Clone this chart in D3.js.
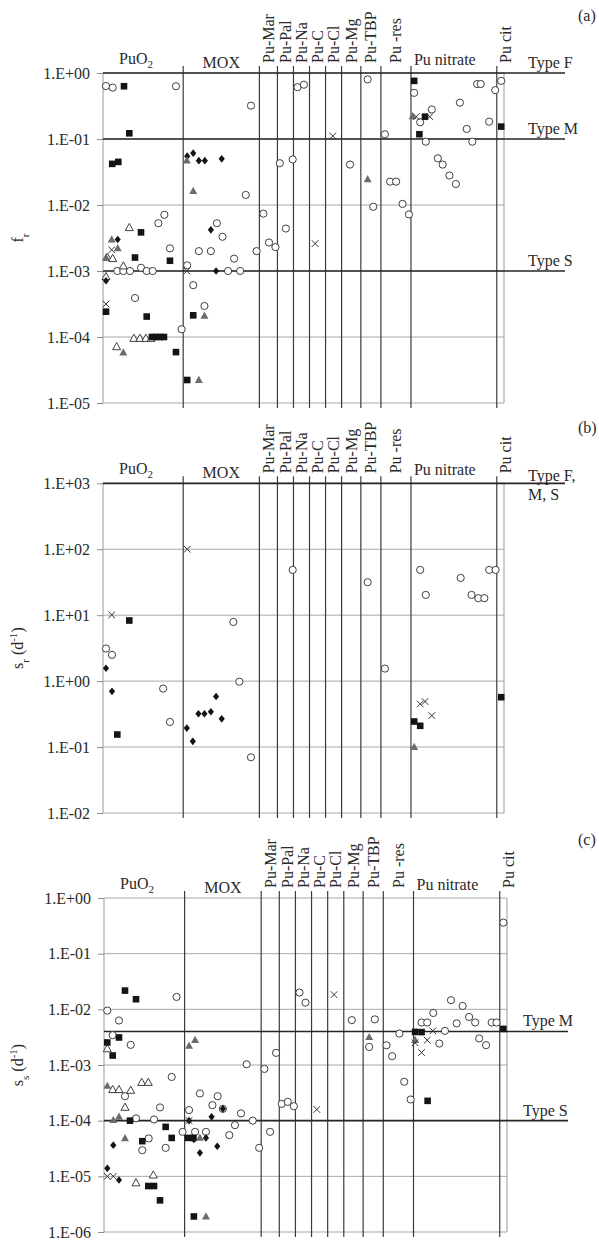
<!DOCTYPE html>
<html>
<head>
<meta charset="utf-8">
<script src="https://cdn.jsdelivr.net/npm/d3@7"></script>
<style>
  body { margin: 0; background: #fff; }
  svg { display: block; }
  text { font-family: "Liberation Serif", "Times New Roman", serif; fill: #2a2a2a; }
</style>
</head>
<body>
<svg id="chart" width="599" height="1240"></svg>
<script>
// ---- categories (material groups along the x axis, position index 0–100) ----
const categories = ["PuO2", "MOX", "Pu-Mar", "Pu-Pal", "Pu-Na", "Pu-C", "Pu-Cl", "Pu-Mg", "Pu-TBP", "Pu -res", "Pu nitrate", "Pu cit"];
const categoryEdges = [0, 20, 39, 43.5, 47.5, 51.5, 55.5, 59.5, 64.3, 69.3, 76.8, 98.2, 100];

// ---- tick labels ----
const frTickLabels = ["1.E+00", "1.E-01", "1.E-02", "1.E-03", "1.E-04", "1.E-05"];
const srTickLabels = ["1.E+03", "1.E+02", "1.E+01", "1.E+00", "1.E-01", "1.E-02"];
const ssTickLabels = ["1.E+00", "1.E-01", "1.E-02", "1.E-03", "1.E-04", "1.E-05", "1.E-06"];

// ---- absorption type reference values ----
const frTypes = [["Type F", 1], ["Type M", 0.1], ["Type S", 0.001]];
const srTypes = [["Type F,|M, S", 1000]];
const ssTypes = [["Type M", 0.004], ["Type S", 0.0001]];

// ---- (a) f_r : [position, value] ----
const frOpenCircle = [
  [0.75,0.635],[2.42,0.60],[18.2,0.63],[13.8,0.0053],[15.3,0.0071],[16.7,0.0022],[3.57,0.001],[5.06,0.001],
  [6.73,0.001],[9.48,0.00112],[10.9,0.001],[12.4,0.001],[7.98,0.00039],[19.6,0.000131],
  [36.9,0.32],[35.6,0.0142],[28.4,0.0053],[29.8,0.0033],[23.9,0.002],[26.9,0.002],[32.7,0.00154],[38.3,0.002],
  [31.2,0.001],[34.2,0.001],[21.0,0.00122],[22.5,0.00061],[25.3,0.000295],
  [40.0,0.0074],[41.4,0.0027],[43.0,0.0023],[44.1,0.043],[45.6,0.0044],[47.3,0.049],[48.5,0.61],[50.1,0.665],
  [61.6,0.041],[66.0,0.80],[67.4,0.0094],[70.3,0.118],[71.6,0.0226],[73.1,0.0226],[74.7,0.0104],[76.3,0.0072],
  [77.6,0.50],[79.1,0.179],[82.0,0.28],[80.5,0.091],[83.5,0.051],[84.7,0.041],[86.4,0.028],[88.0,0.0208],
  [89.0,0.355],[90.7,0.142],[92.1,0.091],[93.3,0.68],[94.2,0.68],[96.3,0.183],[97.8,0.55],[99.3,0.76]
];
const frSquare = [
  [5.24,0.63],[6.56,0.122],[2.3,0.042],[3.82,0.045],[9.48,0.00385],[7.98,0.0016],[16.7,0.00143],[0.75,0.000242],
  [10.9,0.000204],[12.2,0.0001],[13.2,0.0001],[14.2,0.0001],[15.2,0.0001],[18.2,0.000059],
  [22.5,0.000213],[21.0,0.0000223],[77.6,0.76],[80.3,0.218],[78.9,0.118],[99.3,0.154]
];
const frDiamond = [
  [3.67,0.003],[0.75,0.00071],[21.0,0.055],[22.5,0.061],[23.9,0.047],[25.4,0.047],[29.6,0.050],[26.9,0.0042],[28.2,0.001]
];
const frGreyTriangle = [
  [2.17,0.003],[3.67,0.0022],[0.75,0.0016],[5.06,0.000058],[20.9,0.047],[22.5,0.0163],[25.3,0.00021],
  [23.9,0.0000223],[66.0,0.0245],[77.2,0.22]
];
const frOpenTriangle = [
  [6.56,0.00453],[1.07,0.00161],[2.42,0.00154],[5.06,0.00119],[0.75,0.00082],[7.7,0.000095],[9.2,0.000095],
  [10.7,0.000095],[12.0,0.000095],[3.4,0.000071]
];
const frCross = [
  [2.17,0.00209],[0.75,0.000316],[20.9,0.001],[52.9,0.0026],[57.3,0.111],[78.1,0.218],[81.5,0.218]
];

// ---- (b) s_r (d-1) ----
const srOpenCircle = [
  [0.75,3.12],[2.24,2.5],[15.0,0.77],[16.7,0.24],[32.5,7.9],[34.0,0.98],[36.9,0.07],[47.3,48.6],[66.0,31.6],
  [70.3,1.55],[79.1,48.6],[80.5,20.3],[89.2,36.7],[91.9,20.3],[93.6,18.1],[95.1,18.1],[96.3,48.6],[97.9,48.6]
];
const srSquare = [[6.56,8.3],[3.57,0.155],[77.6,0.244],[79.1,0.21],[99.3,0.57]];
const srDiamond = [[0.75,1.57],[2.24,0.70],[20.9,0.194],[22.4,0.122],[23.8,0.32],[25.3,0.32],[26.9,0.343],[28.2,0.585],[29.6,0.268]];
const srGreyTriangle = [[77.6,0.1]];
const srOpenTriangle = [];
const srCross = [[2.17,10.1],[21.0,100],[79.1,0.45],[80.3,0.49],[82.0,0.30]];

// ---- (c) s_s (d-1) ----
const ssOpenCircle = [
  [18.0,0.0167],[0.82,0.0095],[3.72,0.0063],[2.16,0.00343],[6.63,0.0023],[5.21,0.000275],[16.8,0.00061],
  [13.9,0.000173],[7.94,0.00011],[12.41,0.000105],[11.09,0.000048],[9.5,0.0000295],[15.3,0.0000325],
  [21.1,0.000155],[19.5,0.000063],[22.6,0.000063],[23.8,0.000308],[26.9,0.00019],[28.2,0.000275],[29.5,0.000163],
  [25.3,0.000063],[31.1,0.000055],[32.5,0.0000831],[34.0,0.000135],[36.9,0.0001],[38.5,0.0000325],[35.4,0.00103],
  [39.8,0.00085],[41.2,0.000063],[42.7,0.00165],[44.1,0.0002],[45.6,0.000218],[47.1,0.000182],[48.5,0.02],[50.0,0.0132],
  [61.5,0.0064],[67.2,0.0066],[65.8,0.00211],[70.1,0.00226],[71.5,0.00144],[73.3,0.00367],[74.5,0.0005],[76.1,0.00024],
  [78.8,0.0058],[80.2,0.0058],[81.7,0.0086],[83.2,0.00243],[84.6,0.0041],[86.1,0.0146],[87.5,0.0056],[89.0,0.0115],
  [90.6,0.0073],[92.1,0.0058],[93.1,0.003],[94.8,0.00227],[96.2,0.0058],[97.4,0.0058],[99.1,0.361]
];
const ssSquare = [
  [5.21,0.0217],[7.94,0.0152],[3.72,0.00312],[0.82,0.00254],[2.16,0.00148],[6.45,0.0001],[15.3,0.0000774],
  [16.8,0.000049],[9.5,0.0000428],[10.99,0.0000067],[12.41,0.0000067],[13.9,0.0000037],
  [20.9,0.000049],[22.2,0.000049],[22.3,0.0000019],[77.2,0.00393],[78.8,0.0039],[80.3,0.000227],[99.1,0.00445]
];
const ssDiamond = [
  [2.31,0.0000363],[0.82,0.0000139],[3.72,0.0000086],[21.1,0.0001],[23.8,0.0000264],[29.5,0.000163],
  [26.7,0.000117],[22.3,0.000046],[25.3,0.000049],[28.1,0.0000348]
];
const ssGreyTriangle = [
  [21.1,0.0022],[22.6,0.0028],[0.82,0.00042],[2.31,0.000102],[3.72,0.000117],[5.21,0.000048],[23.8,0.000049],
  [25.3,0.0000019],[65.8,0.00316],[77.2,0.0028]
];
const ssOpenTriangle = [
  [0.82,0.00195],[2.16,0.00036],[3.72,0.00036],[6.63,0.00035],[9.35,0.000485],[10.99,0.000485],[5.21,0.000173],
  [7.94,0.0000076],[12.23,0.0000105]
];
const ssCross = [
  [0.82,0.00001],[2.31,0.00001],[21.1,0.0001],[52.8,0.000159],[57.1,0.0184],[77.2,0.0025],[78.8,0.00168],
  [80.2,0.00279],[81.6,0.0041]
];

// ---- marker appearance ----
const markerStyles = {
  circle:      { path: "M3.6,0A3.6,3.6,0,1,1,-3.6,0A3.6,3.6,0,1,1,3.6,0Z", fill: "#fff", stroke: "#2b2b2b", sw: 0.9 },
  openTri:     { path: "M0,-4.3L4,2.9L-4,2.9Z", fill: "#fff", stroke: "#2b2b2b", sw: 0.9 },
  square:      { path: "M-3.3,-3.3H3.3V3.3H-3.3Z", fill: "#141414", stroke: "none", sw: 0 },
  diamond:     { path: "M0,-3.8L3.1,0L0,3.8L-3.1,0Z", fill: "#141414", stroke: "none", sw: 0 },
  greyTri:     { path: "M0,-4.3L4,2.9L-4,2.9Z", fill: "#6c6c6c", stroke: "none", sw: 0 },
  cross:       { path: "M-3.3,-3.3L3.3,3.3M-3.3,3.3L3.3,-3.3", fill: "none", stroke: "#333", sw: 1 }
};

// ---- panel layout ----
const panels = [
  { letter: "(a)", letterY: 21, top: 73, bottom: 403, left: 103, right: 504, typeEnd: 565, typeX: 528,
    ticks: frTickLabels, types: frTypes, title: [["f",""],["r","sub"]],
    series: { circle: frOpenCircle, openTri: frOpenTriangle, square: frSquare, diamond: frDiamond, greyTri: frGreyTriangle, cross: frCross } },
  { letter: "(b)", letterY: 433, top: 483.3, bottom: 813, left: 103, right: 504, typeEnd: 565, typeX: 528,
    ticks: srTickLabels, types: srTypes, title: [["s",""],["r","sub"],[" (d",""],["-1","super"],[")",""]],
    series: { circle: srOpenCircle, openTri: srOpenTriangle, square: srSquare, diamond: srDiamond, greyTri: srGreyTriangle, cross: srCross } },
  { letter: "(c)", letterY: 845, top: 898, bottom: 1232, left: 104, right: 507, typeEnd: 568, typeX: 523,
    ticks: ssTickLabels, types: ssTypes, title: [["s",""],["s","sub"],[" (d",""],["-1","super"],[")",""]],
    series: { circle: ssOpenCircle, openTri: ssOpenTriangle, square: ssSquare, diamond: ssDiamond, greyTri: ssGreyTriangle, cross: ssCross } }
];

const rotatedCats = ["Pu-Mar", "Pu-Pal", "Pu-Na", "Pu-C", "Pu-Cl", "Pu-Mg", "Pu-TBP", "Pu -res", "Pu cit"];

const svg = d3.select("#chart");

panels.forEach(p => {
  const g = svg.append("g");
  const tickValues = p.ticks.map(Number);
  const y = d3.scaleLog().domain(d3.extent(tickValues)).range([p.bottom, p.top]);
  const x = d3.scaleLinear().domain([0, 100]).range([p.left, p.right]);

  // decade grid
  g.append("g").selectAll("line").data(tickValues).join("line")
    .attr("x1", p.left).attr("x2", p.right)
    .attr("y1", d => y(d)).attr("y2", d => y(d))
    .attr("stroke", "#a8a8a8").attr("stroke-width", 1);

  // plot frame (left and right)
  g.append("g").selectAll("line").data([0, 100]).join("line")
    .attr("x1", d => x(d)).attr("x2", d => x(d))
    .attr("y1", p.top).attr("y2", p.bottom)
    .attr("stroke", "#9a9a9a").attr("stroke-width", 1);

  // y axis ticks and labels
  const axis = d3.axisLeft(y).tickValues(tickValues)
    .tickFormat((d, i) => p.ticks[i]).tickSize(6).tickPadding(7);
  const ax = g.append("g").attr("transform", `translate(${p.left},0)`).call(axis);
  ax.select(".domain").remove();
  ax.selectAll(".tick line").attr("stroke", "#8a8a8a");
  ax.selectAll(".tick text").attr("font-size", 16).attr("font-family", "Liberation Serif, serif").attr("fill", "#2a2a2a");

  // category separators
  g.append("g").selectAll("line").data(categoryEdges.slice(1, -1)).join("line")
    .attr("x1", d => x(d)).attr("x2", d => x(d))
    .attr("y1", p.top - 7).attr("y2", p.bottom + 5)
    .attr("stroke", "#3c3c3c").attr("stroke-width", 1.2);

  // absorption type reference lines
  const tl = g.append("g").selectAll("g").data(p.types).join("g");
  tl.append("line")
    .attr("x1", p.left).attr("x2", p.typeEnd)
    .attr("y1", d => y(d[1])).attr("y2", d => y(d[1]))
    .attr("stroke", "#262626").attr("stroke-width", 1.7);
  tl.each(function(d) {
    const lines = d[0].split("|");
    const t = d3.select(this).append("text")
      .attr("x", p.typeX).attr("y", y(d[1]) - (lines.length > 1 ? 2 : 5))
      .attr("font-size", 16);
    lines.forEach((s, i) => t.append("tspan").attr("x", p.typeX).attr("dy", i ? 19 : 0).text(s));
  });

  // category labels
  categories.forEach((c, i) => {
    const x0 = x(categoryEdges[i]), x1 = x(categoryEdges[i + 1]), cx = (x0 + x1) / 2;
    if (rotatedCats.includes(c)) {
      const ox = c === "Pu cit" ? cx + 5 : cx;
      g.append("text")
        .attr("transform", `translate(${ox + 5.5},${p.top - 10}) rotate(-90)`)
        .attr("font-size", 16).text(c);
    } else if (c === "PuO2") {
      const t = g.append("text").attr("x", x0 + 16).attr("y", p.top - 9).attr("font-size", 16);
      t.append("tspan").text("PuO");
      t.append("tspan").attr("font-size", 11).attr("dy", 4).text("2");
    } else if (c === "MOX") {
      g.append("text").attr("x", cx).attr("y", p.top - 5).attr("text-anchor", "middle")
        .attr("font-size", 16).text(c);
    } else {
      g.append("text").attr("x", x0 + 3).attr("y", p.top - 8).attr("font-size", 16).text(c);
    }
  });

  // data markers
  Object.entries(p.series).forEach(([kind, data]) => {
    const st = markerStyles[kind];
    g.append("g").selectAll("path").data(data).join("path")
      .attr("transform", d => `translate(${x(d[0])},${y(d[1])})`)
      .attr("d", st.path)
      .attr("fill", st.fill).attr("stroke", st.stroke).attr("stroke-width", st.sw);
  });

  // axis title
  const midY = (p.top + p.bottom) / 2;
  const tt = g.append("text")
    .attr("transform", `translate(23,${midY}) rotate(-90)`)
    .attr("text-anchor", "middle").attr("font-size", 16);
  p.title.forEach(([s, shift]) => {
    const sp = tt.append("tspan").text(s);
    if (shift) sp.attr("baseline-shift", shift).attr("font-size", 11);
  });

  // panel letter
  g.append("text").attr("x", 578).attr("y", p.letterY).attr("font-size", 16).text(p.letter);
});
</script>
</body>
</html>
